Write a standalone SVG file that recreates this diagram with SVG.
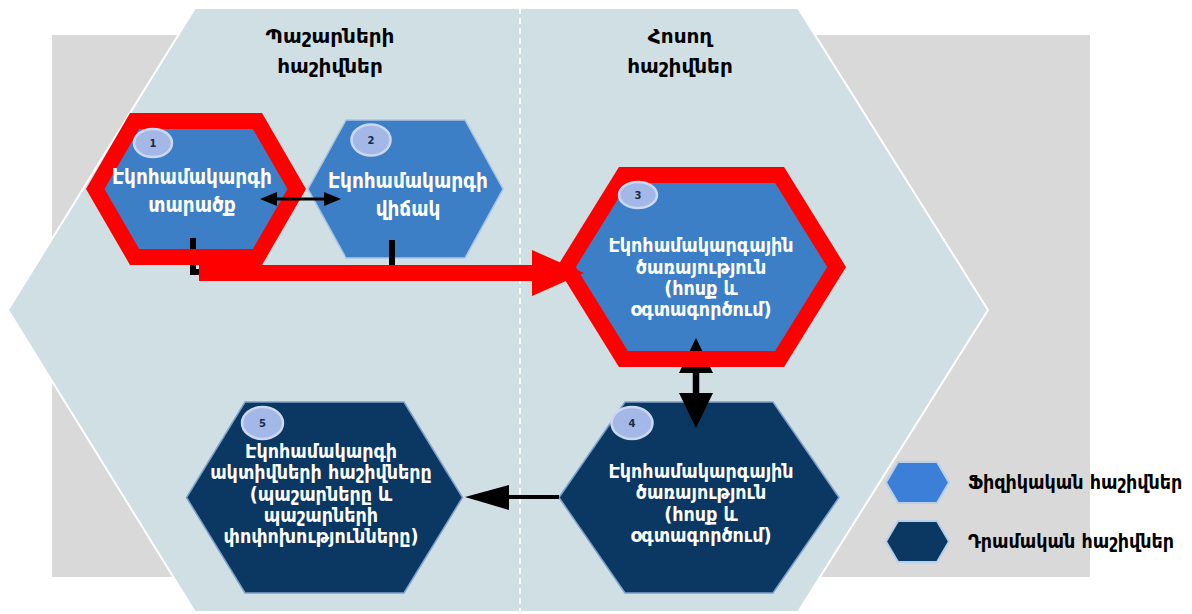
<svg xmlns="http://www.w3.org/2000/svg" width="1192" height="614" viewBox="0 0 1192 614">
<style>
.title{font-family:"DejaVu Sans","Noto Sans",sans-serif;font-weight:bold;font-size:20px;fill:#000;text-anchor:middle}
.nt{font-family:"DejaVu Sans Condensed","DejaVu Sans",sans-serif;font-weight:bold;font-size:20.5px;fill:#fff;text-anchor:middle}
.ns{font-family:"DejaVu Sans Condensed","DejaVu Sans",sans-serif;font-weight:bold;font-size:19.5px;fill:#fff;text-anchor:middle}
.num{font-family:"DejaVu Sans",sans-serif;font-weight:bold;font-size:10px;fill:#1a2a4a;text-anchor:middle}
.lg{font-family:"DejaVu Sans Condensed","DejaVu Sans",sans-serif;font-weight:bold;font-size:19.5px;fill:#000}
.phys{fill:#3d7fc6;stroke:#a9c3e2;stroke-width:1.5}
.mon{fill:#0b3763;stroke:#7fa0c8;stroke-width:1.5}
.hl{fill:none;stroke:#ff0000;stroke-width:16;stroke-linejoin:miter}
.badge{fill:#a3b8e6;stroke:#ccd8f2;stroke-width:2.5}
.blk{stroke:#000;fill:none}
.head{fill:#000}
</style>
<rect x="52" y="35" width="1038" height="542" fill="#d9d9d9"/>
<polygon points="195,8 798,8 988,310 798,612 195,612 8,310" fill="#cfdfe3" stroke="#ffffff" stroke-width="2"/>
<line x1="520" y1="8" x2="520" y2="614" stroke="#ffffff" stroke-width="2" stroke-dasharray="6,4"/>
<g id="title-stock">
<text class="title" x="330" y="43">Պաշարների</text>
<text class="title" x="330" y="73">հաշիվներ</text>
</g>
<g id="title-flow">
<text class="title" x="680" y="43">Հոսող</text>
<text class="title" x="680" y="73">հաշիվներ</text>
</g>
<g id="node1">
<polygon class="phys" points="134.6,121 257.4,121 296.75,189 257.4,257 134.6,257 95.25,189"/>
</g>
<g id="node2">
<polygon class="phys" points="346,120 465,120 503,189 465,258 346,258 308,189"/>
<ellipse class="badge" cx="371" cy="140" rx="19.5" ry="15.5"/>
<text class="num" x="371" y="143.5">2</text>
<text class="nt" x="408" y="188">Էկոհամակարգի</text>
<text class="nt" x="408" y="216">վիճակ</text>
</g>
<g id="node3">
<polygon class="phys" points="623.4,175 779.6,175 836.6,267 779.6,359 623.4,359 566.4,267"/>
</g>
<g id="node4">
<polygon class="mon" points="625,402 773,402 839,497.5 773,593 625,593 559,497.5"/>
<ellipse class="badge" cx="632" cy="423" rx="20.5" ry="16"/>
<text class="num" x="632" y="426.5">4</text>
<text class="ns" x="701" y="478">Էկոհամակարգային</text>
<text class="ns" x="701" y="499">ծառայություն</text>
<text class="ns" x="701" y="521">(հոսք և</text>
<text class="ns" x="701" y="542">օգտագործում)</text>
</g>
<g id="node5">
<polygon class="mon" points="245,402 404,402 462.5,497.5 404,593 245,593 186.5,497.5"/>
<ellipse class="badge" cx="262.5" cy="423" rx="20.5" ry="16"/>
<text class="num" x="262.5" y="426.5">5</text>
<text class="ns" x="321" y="458">Էկոհամակարգի</text>
<text class="ns" x="321" y="479">ակտիվների հաշիվները</text>
<text class="ns" x="321" y="501">(պաշարները և</text>
<text class="ns" x="321" y="522">պաշարների</text>
<text class="ns" x="321" y="543">փոփոխությունները)</text>
</g>
<g id="connectors">
<path class="blk" stroke-width="6" d="M193,238 V272 H540"/>
<path class="blk" stroke-width="6" d="M392,240 V273"/>
<line class="blk" stroke-width="6.5" x1="696" y1="352" x2="696" y2="400"/>
<polygon class="head" points="696,338 679,373 713,373"/>
<polygon class="head" points="696,428 679,393 713,393"/>
<line class="blk" stroke-width="4" x1="559" y1="497" x2="500" y2="497"/>
<polygon class="head" points="465,497 509,485 509,510"/>
</g>
<g id="highlight">
<polygon class="hl" points="134.6,121 257.4,121 296.75,189 257.4,257 134.6,257 95.25,189"/>
<polygon class="hl" points="623.4,175 779.6,175 836.6,267 779.6,359 623.4,359 566.4,267"/>
<polygon fill="#ff0000" points="199,265 532,265 532,250 584,273 532,296 532,281 199,281"/>
</g>
<g id="node1-label">
<ellipse class="badge" cx="153" cy="143" rx="19" ry="14"/>
<text class="num" x="153" y="146.5">1</text>
<text class="nt" x="192" y="184">Էկոհամակարգի</text>
<text class="nt" x="192" y="212">տարածք</text>
</g>
<g id="node3-label">
<ellipse class="badge" cx="638" cy="195" rx="19" ry="13"/>
<text class="num" x="638" y="198.5">3</text>
<text class="ns" x="701" y="252">Էկոհամակարգային</text>
<text class="ns" x="701" y="274">ծառայություն</text>
<text class="ns" x="701" y="295">(հոսք և</text>
<text class="ns" x="701" y="316">օգտագործում)</text>
</g>
<g id="connector-1-2">
<line class="blk" stroke-width="3" x1="272" y1="199" x2="330" y2="199"/>
<polygon class="head" points="260,199 277,192 277,206"/>
<polygon class="head" points="341,199 324,192 324,206"/>
</g>
<g id="legend">
<polygon fill="#3b7fd8" stroke="#b8cfe8" stroke-width="2" points="898,462 937,462 949,482.5 937,503 898,503 886,482.5"/>
<text class="lg" x="968" y="489">Ֆիզիկական հաշիվներ</text>
<polygon fill="#0b3763" stroke="#b8cfe8" stroke-width="2" points="898,521 937,521 949,541.5 937,562 898,562 886,541.5"/>
<text class="lg" x="968" y="548">Դրամական հաշիվներ</text>
</g>
</svg>
